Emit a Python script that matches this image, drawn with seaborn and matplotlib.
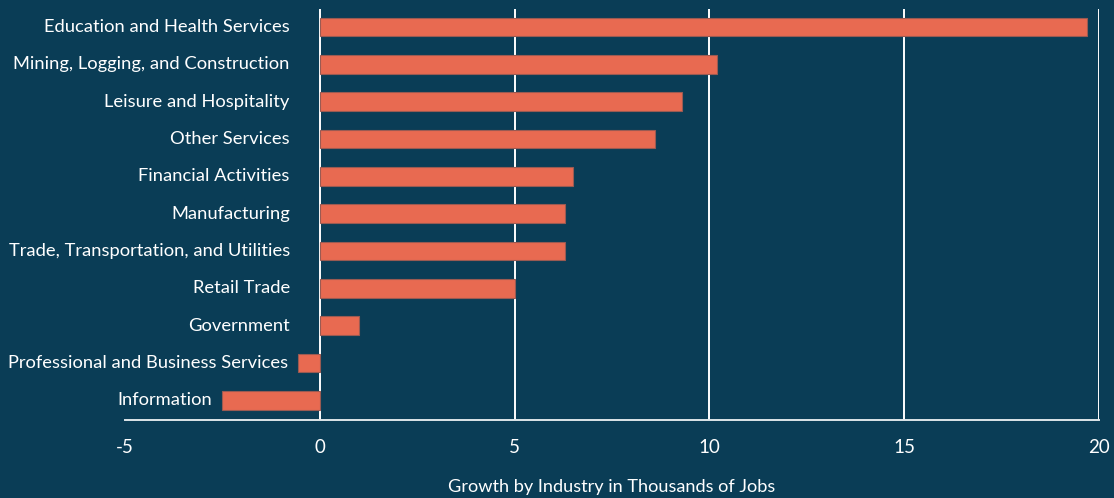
import matplotlib
matplotlib.use("Agg")
import matplotlib.pyplot as plt
import seaborn as sns
import pandas as pd

industries = [
    "Education and Health Services",
    "Mining, Logging, and Construction",
    "Leisure and Hospitality",
    "Other Services",
    "Financial Activities",
    "Manufacturing",
    "Trade, Transportation, and Utilities",
    "Retail Trade",
    "Government",
    "Professional and Business Services",
    "Information",
]
growth = [19.7, 10.2, 9.3, 8.6, 6.5, 6.3, 6.3, 5.0, 1.0, -0.55, -2.5]
x_ticks = [-5, 0, 5, 10, 15, 20]
x_title = "Growth by Industry in Thousands of Jobs"

BG = "#0a3d56"
BAR = "#e86a51"
FG = "white"

sns.set_theme(style="white")
plt.rcParams["font.family"] = ["Lato", "DejaVu Sans"]

df = pd.DataFrame({"industry": industries, "growth": growth})

fig = plt.figure(figsize=(11.14, 4.98), dpi=100, facecolor=BG)
ax = fig.add_axes([0.1122, 0.1566, 0.8743, 0.8253])
ax.set_facecolor(BG)

sns.barplot(data=df, y="industry", x="growth", orient="h", order=industries,
            color=BAR, saturation=1, width=0.5, edgecolor="#9a5a52",
            linewidth=0.8, ax=ax, zorder=3)

ax.set_xlim(-5, 20)
ax.set_ylim(10.53, -0.48)
ax.set_xticks(x_ticks)
ax.set_xticklabels([str(t) for t in x_ticks])
ax.set_yticks([])
ax.set_ylabel("")
ax.set_xlabel(x_title, color=FG, fontsize=13.1, labelpad=16)

for t in x_ticks[1:]:
    ax.axvline(t, color=FG, lw=1.4, zorder=2)

for side in ["top", "right", "left"]:
    ax.spines[side].set_visible(False)
ax.spines["bottom"].set_color("#dde5e9")
ax.spines["bottom"].set_linewidth(1.4)

ax.tick_params(axis="x", colors=FG, labelcolor=FG, labelsize=13.5,
               direction="in", length=8, width=1.4, pad=14)

# Category names sit just left of each bar (or of the zero line)
for i, (name, val) in enumerate(zip(industries, growth)):
    if val >= 0:
        ax.annotate(name, xy=(0, i), xytext=(-30, 0), textcoords="offset pixels",
                    ha="right", va="center", color=FG, fontsize=13.2)
    else:
        ax.annotate(name, xy=(val, i), xytext=(-10, 0), textcoords="offset pixels",
                    ha="right", va="center", color=FG, fontsize=13.2)

fig.savefig("out.png", dpi=100, facecolor=BG)
